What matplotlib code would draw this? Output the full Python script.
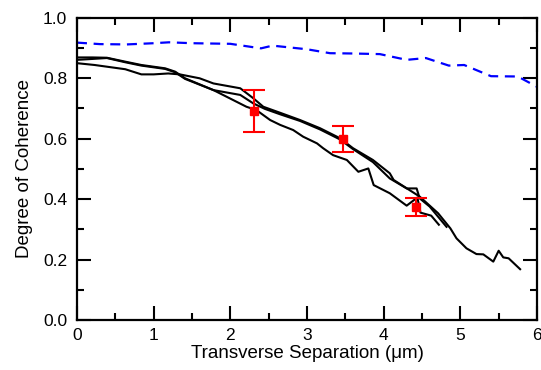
import matplotlib
matplotlib.use("Agg")
import matplotlib.pyplot as plt
from matplotlib.ticker import MultipleLocator

plt.rcParams['font.family'] = ['Liberation Sans', 'DejaVu Sans']

# Blue dashed curve
blue_x = [0, 0.3, 0.65, 1.0, 1.2, 1.5, 2.0, 2.4, 2.55, 3.0, 3.3, 3.6, 3.95, 4.3, 4.55, 4.85, 5.05, 5.4, 5.75, 6.0]
blue_y = [0.917, 0.912, 0.911, 0.915, 0.918, 0.915, 0.913, 0.898, 0.907, 0.895, 0.882, 0.881, 0.879, 0.860, 0.866, 0.841, 0.843, 0.806, 0.805, 0.771]

# Black curve A
a_x = [0, 0.23, 0.63, 0.84, 1.0, 1.19, 1.34, 1.6, 1.78, 2.13, 2.3, 2.43, 2.65, 2.91, 3.17, 3.43, 3.6, 3.86, 4.08,
       4.13, 4.47, 4.71, 4.87, 4.95, 5.08, 5.21, 5.3, 5.43, 5.5, 5.56, 5.63, 5.78]
a_y = [0.849, 0.843, 0.829, 0.812, 0.812, 0.815, 0.812, 0.799, 0.782, 0.766, 0.733, 0.705, 0.685, 0.661, 0.634, 0.601, 0.568, 0.529, 0.485,
       0.463, 0.408, 0.353, 0.303, 0.270, 0.237, 0.218, 0.217, 0.193, 0.229, 0.207, 0.204, 0.168]

# Black curve B
b_x = [0, 0.2, 0.39, 0.63, 0.84, 1.15, 1.28, 1.41, 1.78, 2.13, 2.30, 2.45, 2.65, 2.91, 3.17, 3.43, 3.6, 3.86, 4.08, 4.3, 4.43, 4.47, 4.6, 4.82]
b_y = [0.860, 0.863, 0.866, 0.852, 0.841, 0.830, 0.819, 0.797, 0.760, 0.744, 0.716, 0.698, 0.680, 0.658, 0.630, 0.597, 0.565, 0.522, 0.468, 0.435, 0.435, 0.402, 0.375, 0.308]

# Black curve C
c_x = [0, 0.2, 0.39, 0.63, 0.84, 1.15, 1.28, 1.41, 1.78, 2.21, 2.34, 2.52, 2.65, 2.82, 2.95, 3.13, 3.21, 3.34, 3.52, 3.67, 3.80, 3.87, 4.08, 4.30, 4.44, 4.48, 4.62, 4.72]
c_y = [0.868, 0.868, 0.867, 0.854, 0.843, 0.832, 0.821, 0.799, 0.760, 0.705, 0.694, 0.661, 0.645, 0.628, 0.606, 0.584, 0.568, 0.545, 0.529, 0.490, 0.501, 0.446, 0.419, 0.378, 0.405, 0.355, 0.345, 0.315]

# Measured points with error bars
pts_x = [2.31, 3.47, 4.42]
pts_y = [0.692, 0.600, 0.375]
err_lo = [0.070, 0.045, 0.030]
err_hi = [0.068, 0.041, 0.027]

xticks = [0, 1, 2, 3, 4, 5, 6]
yticks = [0.0, 0.2, 0.4, 0.6, 0.8, 1.0]

fig = plt.figure(figsize=(5.41, 3.70), dpi=100)
ax = fig.add_axes([0.1423, 0.1351, 0.8503, 0.8176])

ax.plot(blue_x, blue_y, color='#0000ff', lw=1.6, dashes=(4.5, 3))
ax.plot(a_x, a_y, color='black', lw=1.5)
ax.plot(b_x, b_y, color='black', lw=1.5)
ax.plot(c_x, c_y, color='black', lw=1.5)
ax.errorbar(pts_x, pts_y, yerr=[err_lo, err_hi], fmt='s', color='#ff0000',
            ms=6, lw=1.5, capsize=8, capthick=1.5, zorder=5)

ax.set_xlim(0, 6)
ax.set_ylim(0, 1.0)
ax.set_xticks(xticks)
ax.set_yticks(yticks)
ax.set_xticklabels([str(t) for t in xticks])
ax.set_yticklabels([f"{t:.1f}" for t in yticks])
ax.xaxis.set_minor_locator(MultipleLocator(0.5))
ax.yaxis.set_minor_locator(MultipleLocator(0.1))
ax.tick_params(which='both', direction='in', top=True, right=True, width=1.5, labelsize=12.5, colors='black')
ax.tick_params(which='major', length=10)
ax.tick_params(which='minor', length=5)
ax.tick_params(axis='x', pad=6)
ax.tick_params(axis='y', pad=7)
for s in ax.spines.values():
    s.set_linewidth(1.6)

ax.set_xlabel("Transverse Separation (μm)", fontsize=13.5, labelpad=1)
ax.set_ylabel("Degree of Coherence", fontsize=13.5, labelpad=7)

fig.savefig("out.png", dpi=100)
